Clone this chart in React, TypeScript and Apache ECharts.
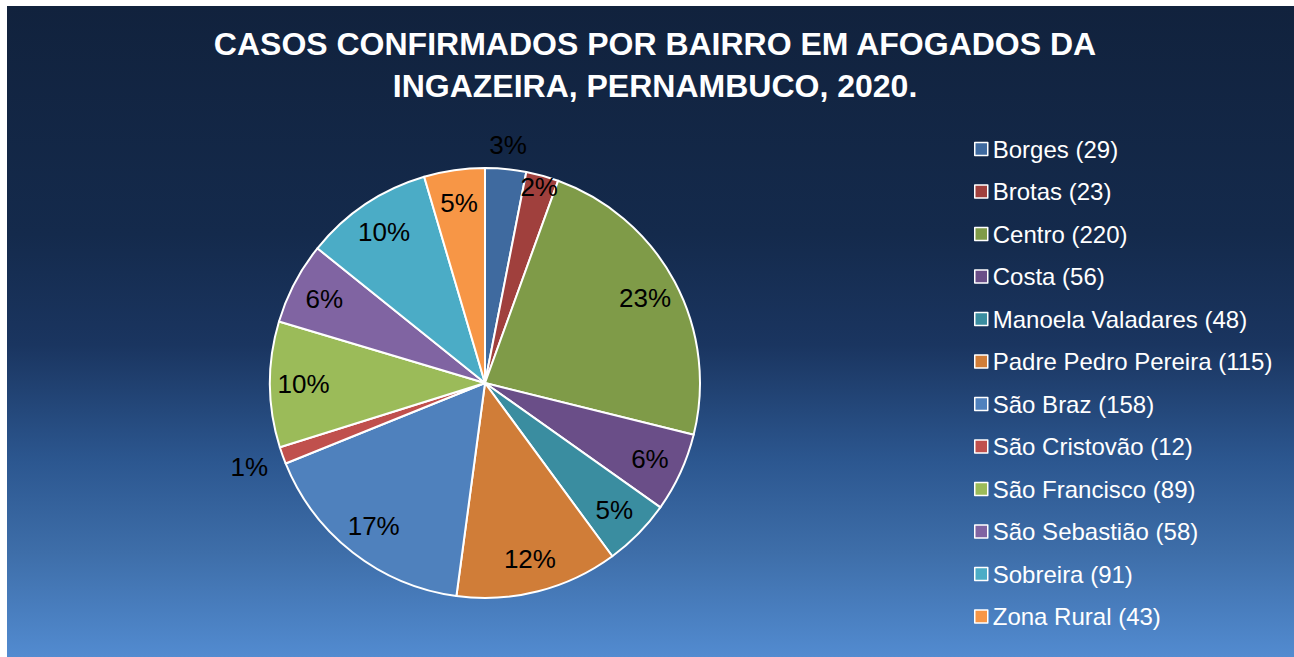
import React, { useEffect, useRef } from "react";
import * as echarts from "echarts";

const titleText = "CASOS CONFIRMADOS POR BAIRRO EM AFOGADOS DA\nINGAZEIRA, PERNAMBUCO, 2020.";
const bairros = [
  "Borges",
  "Brotas",
  "Centro",
  "Costa",
  "Manoela Valadares",
  "Padre Pedro Pereira",
  "São Braz",
  "São Cristovão",
  "São Francisco",
  "São Sebastião",
  "Sobreira",
  "Zona Rural",
];
const casos = [29, 23, 220, 56, 48, 115, 158, 12, 89, 58, 91, 43];
const cores = [
  "#3F6A9F",
  "#A0403D",
  "#7F9B48",
  "#6A4E88",
  "#3A8DA0",
  "#D07D38",
  "#4F81BD",
  "#C0504D",
  "#9BBB59",
  "#8064A2",
  "#4BACC6",
  "#F79646",
];

const R = 215;
const CENTER = [478, 377];

function labelSeries(r0: number, r1: number, show: number[]) {
  const set = new Set(show);
  return {
    type: "pie",
    silent: true,
    legendHoverLink: false,
    center: CENTER,
    radius: [R * r0, R * r1],
    startAngle: 90,
    clockwise: true,
    percentPrecision: 0,
    z: 5,
    itemStyle: { color: "rgba(0,0,0,0)", borderWidth: 0 },
    emphasis: { disabled: true },
    labelLine: { show: false },
    label: {
      position: "inside",
      formatter: "{d}%",
      color: "#000",
      fontFamily: "Liberation Sans, Arial, sans-serif",
      fontSize: 26,
    },
    data: bairros.map((n, i) => ({
      name: `${n} (${casos[i]})`,
      value: casos[i],
      label: { show: set.has(i) },
    })),
  };
}

export default function App() {
  const ref = useRef<HTMLDivElement>(null);
  useEffect(() => {
    const chart = echarts.init(ref.current!, undefined, { renderer: "svg" });
    const legendNames = bairros.map((n, i) => `${n} (${casos[i]})`);
    chart.setOption({
      animation: false,
      title: {
        text: titleText,
        left: 648,
        textAlign: "center",
        top: 17,
        padding: 0,
        textStyle: {
          color: "#fff",
          fontFamily: "Liberation Sans, Arial, sans-serif",
          fontWeight: "bold",
          fontSize: 32,
          lineHeight: 42,
        },
      },
      legend: {
        orient: "vertical",
        left: 967,
        top: 131,
        padding: 0,
        itemWidth: 13,
        itemHeight: 13,
        itemGap: 18.5,
        icon: "rect",
        itemStyle: { borderColor: "#fff", borderWidth: 1.5 },
        selectedMode: false,
        data: legendNames,
        textStyle: {
          color: "#fff",
          fontFamily: "Liberation Sans, Arial, sans-serif",
          fontSize: 24,
          padding: [0, 0, 0, 0],
        },
      },
      series: [
        {
          type: "pie",
          center: CENTER,
          radius: R,
          startAngle: 90,
          clockwise: true,
          percentPrecision: 0,
          z: 2,
          label: { show: false },
          labelLine: { show: false },
          emphasis: { disabled: true },
          itemStyle: { borderColor: "#fff", borderWidth: 2 },
          data: bairros.map((n, i) => ({
            name: legendNames[i],
            value: casos[i],
            itemStyle: { color: cores[i] },
          })),
        },
        labelSeries(0.66, 1.0, [2, 3, 4, 5, 6, 8, 9, 10, 11]),
        labelSeries(0.86, 1.0, [1]),
        labelSeries(1.0, 1.2, [0]),
        labelSeries(1.0, 1.3, [7]),
      ],
    });
    return () => chart.dispose();
  }, []);
  return (
    <div
      ref={ref}
      style={{
        position: "absolute",
        left: 7,
        top: 6,
        width: 1287,
        height: 651,
        background:
          "linear-gradient(to bottom, #11223d 0%, #142a4c 35%, #1a3560 52%, #2c5790 70%, #3e6ea9 84%, #528bd0 100%)",
      }}
    />
  );
}
